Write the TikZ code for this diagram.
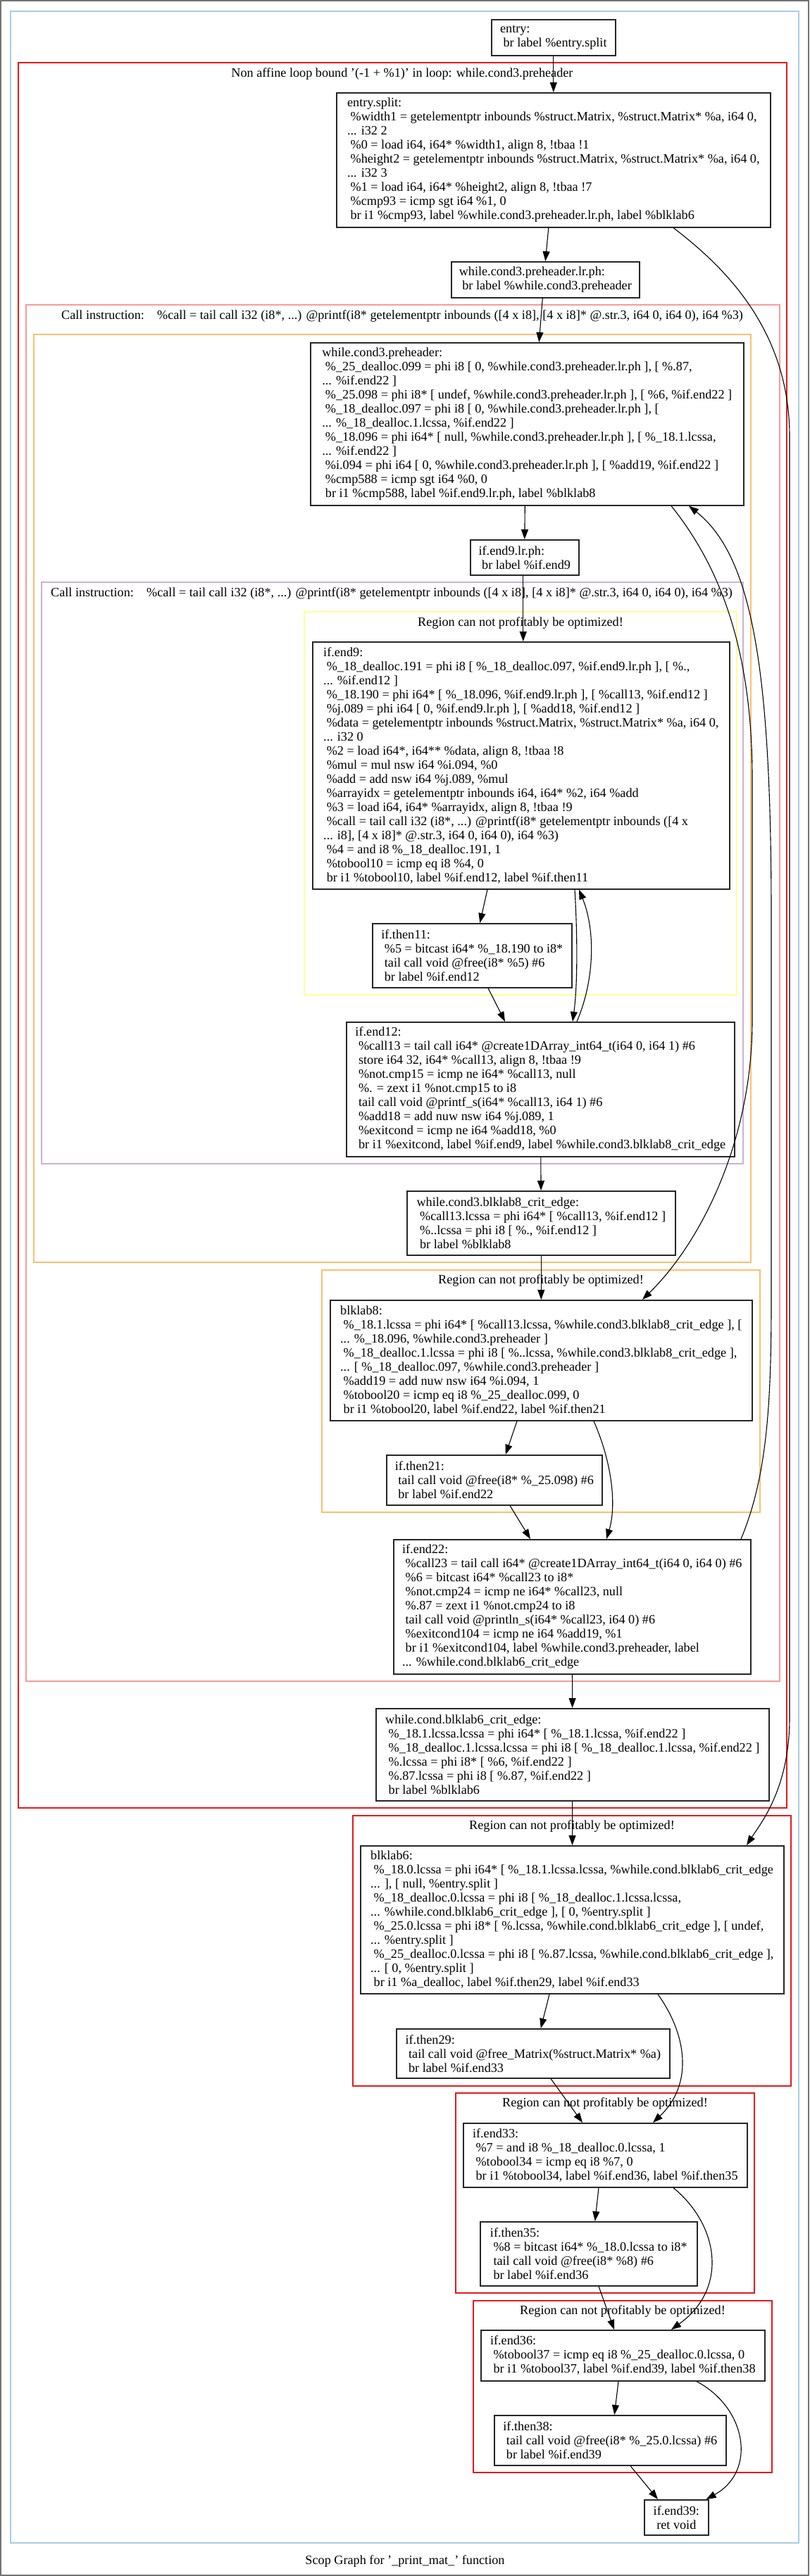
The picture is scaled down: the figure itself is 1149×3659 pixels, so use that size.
\documentclass[tikz,border=0pt]{standalone}
\usepackage{fontspec}
\setmainfont{Liberation Serif}
\usepackage{tikz}
\usetikzlibrary{arrows.meta}

\definecolor{regblau}{HTML}{A6CEE3}
\definecolor{regrot}{HTML}{E31A1C}
\definecolor{regrosa}{HTML}{FB9A99}
\definecolor{regorange}{HTML}{FDBF6F}
\definecolor{reglila}{HTML}{CAB2D6}
\definecolor{reggelb}{HTML}{FFFF99}

\newcommand{\grfont}{\fontsize{18.2pt}{20pt}\selectfont}

\begin{document}
\begin{tikzpicture}[x=1pt, y=-1pt,
		>={Triangle[length=14pt,width=10pt]},
		block/.style={draw=black!85, line width=1.6pt, align=left, anchor=north west, inner sep=0pt, font=\grfont},
		region/.style={line width=1.2pt},
		rtext/.style={font=\grfont, inner sep=0pt},
		kante/.style={->, line width=1.1pt}]
		\useasboundingbox (0,0) rectangle (1149,3659);
		\draw[line width=1.5pt, black!55] (1,1) rectangle (1148,3658);
		
		%Regionen
		\draw[region, regblau]   (15,16) rectangle (1134,3612);
		\draw[region, regrot]    (26,89) rectangle (1117,2568);
		\draw[region, regrosa]   (37,433) rectangle (1107,2388);
		\draw[region, regorange] (48,475) rectangle (1066,1793);
		\draw[region, reglila]   (59,827) rectangle (1055,1653);
		\draw[region, reggelb]   (432,869) rectangle (1046,1413);
		\draw[region, regorange] (457,1804) rectangle (1079,2148);
		\draw[region, regrot]    (501,2579) rectangle (1123,2963);
		\draw[region, regrot]    (647,2973) rectangle (1071,3257);
		\draw[region, regrot]    (672,3268) rectangle (1096,3512);
		
		\node[rtext] (nonaffine) at (571,105) {Non affine loop bound '(-1 + \%1)' in loop: while.cond3.preheader};
		\node[rtext] (callA) at (571,449) {Call instruction:\ \ \ \ \%call = tail call i32 (i8*, ...) @printf(i8* getelementptr inbounds ([4 x i8], [4 x i8]* @.str.3, i64 0, i64 0), i64 \%3)};
		\node[rtext] (callB) at (556,843) {Call instruction:\ \ \ \ \%call = tail call i32 (i8*, ...) @printf(i8* getelementptr inbounds ([4 x i8], [4 x i8]* @.str.3, i64 0, i64 0), i64 \%3)};
		\node[rtext] (regA) at (739,885) {Region can not profitably be optimized!};
		\node[rtext] (regB) at (768,1819) {Region can not profitably be optimized!};
		\node[rtext] (regC) at (812,2594) {Region can not profitably be optimized!};
		\node[rtext] (regD) at (859,2988) {Region can not profitably be optimized!};
		\node[rtext] (regE) at (884,3283) {Region can not profitably be optimized!};
		\node[rtext] (titel) at (575,3638) {Scop Graph for '\_print\_mat\_' function};
		
		%Bloecke
		\node[block, minimum width=176pt, minimum height=51pt] (entry) at (697,27) {entry:\\~br label \%entry.split};
		\node[block, minimum width=616pt, minimum height=191pt] (esplit) at (477,131) {entry.split:\\
			~\%width1 = getelementptr inbounds \%struct.Matrix, \%struct.Matrix* \%a, i64 0,\\
			... i32 2\\
			~\%0 = load i64, i64* \%width1, align 8, !tbaa !1\\
			~\%height2 = getelementptr inbounds \%struct.Matrix, \%struct.Matrix* \%a, i64 0,\\
			... i32 3\\
			~\%1 = load i64, i64* \%height2, align 8, !tbaa !7\\
			~\%cmp93 = icmp sgt i64 \%1, 0\\
			~br i1 \%cmp93, label \%while.cond3.preheader.lr.ph, label \%blklab6};
		\node[block, minimum width=267pt, minimum height=51pt] (lrph) at (640,371) {while.cond3.preheader.lr.ph:\\~br label \%while.cond3.preheader};
		\node[block, minimum width=615pt, minimum height=231pt] (wcpre) at (440,486) {while.cond3.preheader:\\
			~\%\_25\_dealloc.099 = phi i8 [ 0, \%while.cond3.preheader.lr.ph ], [ \%.87,\\
			... \%if.end22 ]\\
			~\%\_25.098 = phi i8* [ undef, \%while.cond3.preheader.lr.ph ], [ \%6, \%if.end22 ]\\
			~\%\_18\_dealloc.097 = phi i8 [ 0, \%while.cond3.preheader.lr.ph ], [\\
			... \%\_18\_dealloc.1.lcssa, \%if.end22 ]\\
			~\%\_18.096 = phi i64* [ null, \%while.cond3.preheader.lr.ph ], [ \%\_18.1.lcssa,\\
			... \%if.end22 ]\\
			~\%i.094 = phi i64 [ 0, \%while.cond3.preheader.lr.ph ], [ \%add19, \%if.end22 ]\\
			~\%cmp588 = icmp sgt i64 \%0, 0\\
			~br i1 \%cmp588, label \%if.end9.lr.ph, label \%blklab8};
		\node[block, minimum width=154pt, minimum height=50pt] (eninelrph) at (667,766) {if.end9.lr.ph:\\~br label \%if.end9};
		\node[block, minimum width=592pt, minimum height=351pt] (enine) at (443,911) {if.end9:\\
			~\%\_18\_dealloc.191 = phi i8 [ \%\_18\_dealloc.097, \%if.end9.lr.ph ], [ \%.,\\
			... \%if.end12 ]\\
			~\%\_18.190 = phi i64* [ \%\_18.096, \%if.end9.lr.ph ], [ \%call13, \%if.end12 ]\\
			~\%j.089 = phi i64 [ 0, \%if.end9.lr.ph ], [ \%add18, \%if.end12 ]\\
			~\%data = getelementptr inbounds \%struct.Matrix, \%struct.Matrix* \%a, i64 0,\\
			... i32 0\\
			~\%2 = load i64*, i64** \%data, align 8, !tbaa !8\\
			~\%mul = mul nsw i64 \%i.094, \%0\\
			~\%add = add nsw i64 \%j.089, \%mul\\
			~\%arrayidx = getelementptr inbounds i64, i64* \%2, i64 \%add\\
			~\%3 = load i64, i64* \%arrayidx, align 8, !tbaa !9\\
			~\%call = tail call i32 (i8*, ...) @printf(i8* getelementptr inbounds ([4 x\\
			... i8], [4 x i8]* @.str.3, i64 0, i64 0), i64 \%3)\\
			~\%4 = and i8 \%\_18\_dealloc.191, 1\\
			~\%tobool10 = icmp eq i8 \%4, 0\\
			~br i1 \%tobool10, label \%if.end12, label \%if.then11};
		\node[block, minimum width=283pt, minimum height=91pt] (televen) at (528,1311) {if.then11:\\
			~\%5 = bitcast i64* \%\_18.190 to i8*\\
			~tail call void @free(i8* \%5) \#6\\
			~br label \%if.end12};
		\node[block, minimum width=551pt, minimum height=191pt] (etwelve) at (491,1451) {if.end12:\\
			~\%call13 = tail call i64* @create1DArray\_int64\_t(i64 0, i64 1) \#6\\
			~store i64 32, i64* \%call13, align 8, !tbaa !9\\
			~\%not.cmp15 = icmp ne i64* \%call13, null\\
			~\%. = zext i1 \%not.cmp15 to i8\\
			~tail call void @printf\_s(i64* \%call13, i64 1) \#6\\
			~\%add18 = add nuw nsw i64 \%j.089, 1\\
			~\%exitcond = icmp ne i64 \%add18, \%0\\
			~br i1 \%exitcond, label \%if.end9, label \%while.cond3.blklab8\_crit\_edge};
		\node[block, minimum width=381pt, minimum height=91pt] (crit) at (577,1691) {while.cond3.blklab8\_crit\_edge:\\
			~\%call13.lcssa = phi i64* [ \%call13, \%if.end12 ]\\
			~\%..lcssa = phi i8 [ \%., \%if.end12 ]\\
			~br label \%blklab8};
		\node[block, minimum width=599pt, minimum height=171pt] (bacht) at (468,1846) {blklab8:\\
			~\%\_18.1.lcssa = phi i64* [ \%call13.lcssa, \%while.cond3.blklab8\_crit\_edge ], [\\
			... \%\_18.096, \%while.cond3.preheader ]\\
			~\%\_18\_dealloc.1.lcssa = phi i8 [ \%..lcssa, \%while.cond3.blklab8\_crit\_edge ],\\
			... [ \%\_18\_dealloc.097, \%while.cond3.preheader ]\\
			~\%add19 = add nuw nsw i64 \%i.094, 1\\
			~\%tobool20 = icmp eq i8 \%\_25\_dealloc.099, 0\\
			~br i1 \%tobool20, label \%if.end22, label \%if.then21};
		\node[block, minimum width=306pt, minimum height=71pt] (ttwentyone) at (548,2066) {if.then21:\\
			~tail call void @free(i8* \%\_25.098) \#6\\
			~br label \%if.end22};
		\node[block, minimum width=507pt, minimum height=191pt] (etwentytwo) at (558,2186) {if.end22:\\
			~\%call23 = tail call i64* @create1DArray\_int64\_t(i64 0, i64 0) \#6\\
			~\%6 = bitcast i64* \%call23 to i8*\\
			~\%not.cmp24 = icmp ne i64* \%call23, null\\
			~\%.87 = zext i1 \%not.cmp24 to i8\\
			~tail call void @println\_s(i64* \%call23, i64 0) \#6\\
			~\%exitcond104 = icmp ne i64 \%add19, \%1\\
			~br i1 \%exitcond104, label \%while.cond3.preheader, label\\
			... \%while.cond.blklab6\_crit\_edge};
		\node[block, minimum width=558pt, minimum height=131pt] (critsechs) at (533,2426) {while.cond.blklab6\_crit\_edge:\\
			~\%\_18.1.lcssa.lcssa = phi i64* [ \%\_18.1.lcssa, \%if.end22 ]\\
			~\%\_18\_dealloc.1.lcssa.lcssa = phi i8 [ \%\_18\_dealloc.1.lcssa, \%if.end22 ]\\
			~\%.lcssa = phi i8* [ \%6, \%if.end22 ]\\
			~\%.87.lcssa = phi i8 [ \%.87, \%if.end22 ]\\
			~br label \%blklab6};
		\node[block, minimum width=601pt, minimum height=210pt] (bsechs) at (511,2621) {blklab6:\\
			~\%\_18.0.lcssa = phi i64* [ \%\_18.1.lcssa.lcssa, \%while.cond.blklab6\_crit\_edge\\
			... ], [ null, \%entry.split ]\\
			~\%\_18\_dealloc.0.lcssa = phi i8 [ \%\_18\_dealloc.1.lcssa.lcssa,\\
			... \%while.cond.blklab6\_crit\_edge ], [ 0, \%entry.split ]\\
			~\%\_25.0.lcssa = phi i8* [ \%.lcssa, \%while.cond.blklab6\_crit\_edge ], [ undef,\\
			... \%entry.split ]\\
			~\%\_25\_dealloc.0.lcssa = phi i8 [ \%.87.lcssa, \%while.cond.blklab6\_crit\_edge ],\\
			... [ 0, \%entry.split ]\\
			~br i1 \%a\_dealloc, label \%if.then29, label \%if.end33};
		\node[block, minimum width=388pt, minimum height=70pt] (ttwentynine) at (562,2881) {if.then29:\\
			~tail call void @free\_Matrix(\%struct.Matrix* \%a)\\
			~br label \%if.end33};
		\node[block, minimum width=403pt, minimum height=91pt] (ethirtythree) at (657,3015) {if.end33:\\
			~\%7 = and i8 \%\_18\_dealloc.0.lcssa, 1\\
			~\%tobool34 = icmp eq i8 \%7, 0\\
			~br i1 \%tobool34, label \%if.end36, label \%if.then35};
		\node[block, minimum width=308pt, minimum height=91pt] (tthirtyfive) at (681,3155) {if.then35:\\
			~\%8 = bitcast i64* \%\_18.0.lcssa to i8*\\
			~tail call void @free(i8* \%8) \#6\\
			~br label \%if.end36};
		\node[block, minimum width=403pt, minimum height=72pt] (ethirtysix) at (682,3309) {if.end36:\\
			~\%tobool37 = icmp eq i8 \%\_25\_dealloc.0.lcssa, 0\\
			~br i1 \%tobool37, label \%if.end39, label \%if.then38};
		\node[block, minimum width=329pt, minimum height=71pt] (tthirtyeight) at (701,3430) {if.then38:\\
			~tail call void @free(i8* \%\_25.0.lcssa) \#6\\
			~br label \%if.end39};
		\node[block, minimum width=91pt, minimum height=50pt] (ethirtynine) at (914,3550) {if.end39:\\~ret void};
		
		%Kanten
		\draw[kante] (entry) -- (esplit);
		\draw[kante] ([xshift=-7pt]esplit.south) -- (lrph.north);
		\draw[kante] ([xshift=479pt]esplit.south west) .. controls (1030,380) and (1121,470) .. (1121,620) -- (1121,2440) .. controls (1121,2540) and (1080,2590) .. ([xshift=549pt]bsechs.north west);
		\draw[kante] ([xshift=-4pt]lrph.south) -- ([xshift=17pt]wcpre.north);
		\draw[kante] ([xshift=-3pt]wcpre.south) -- (eninelrph.north);
		\draw[kante] ([xshift=513pt]wcpre.south west) .. controls (1010,790) and (1067,900) .. (1068,1100) -- (1068,1450) .. controls (1068,1620) and (995,1765) .. ([xshift=444pt]bacht.north west);
		\draw[kante] ([xshift=-2pt]eninelrph.south) -- ([xshift=3pt]enine.north);
		\draw[kante] ([xshift=249pt]enine.south west) -- ([xshift=11pt]televen.north);
		\draw[kante] ([xshift=373pt]enine.south west) .. controls (820,1330) and (820,1400) .. ([xshift=322pt]etwelve.north west);
		\draw[kante] ([xshift=328pt]etwelve.north west) .. controls (845,1390) and (845,1320) .. ([xshift=379pt]enine.south west);
		\draw[kante] ([xshift=165pt]televen.south west) -- ([xshift=226pt]etwelve.north west);
		\draw[kante] (etwelve) -- (crit);
		\draw[kante] (crit) -- (bacht);
		\draw[kante] ([xshift=266pt]bacht.south west) -- ([xshift=16pt]ttwentyone.north);
		\draw[kante] ([xshift=375pt]bacht.south west) .. controls (870,2080) and (875,2140) .. ([xshift=303pt]etwentytwo.north west);
		\draw[kante] ([xshift=176pt]ttwentyone.south west) -- ([xshift=195pt]etwentytwo.north west);
		%zurueck zum Schleifenkopf
		\draw[kante] ([xshift=494pt]etwentytwo.north west) .. controls (1088,2100) and (1095,2000) .. (1095,1850) -- (1095,1300) .. controls (1095,950) and (1068,790) .. ([xshift=538pt]wcpre.south west);
		\draw[kante] (etwentytwo) -- (critsechs);
		\draw[kante] (critsechs) -- (bsechs);
		\draw[kante] ([xshift=269pt]bsechs.south west) -- ([xshift=11pt]ttwentynine.north);
		\draw[kante] ([xshift=423pt]bsechs.south west) .. controls (975,2890) and (985,2960) .. ([xshift=270pt]ethirtythree.north west);
		\draw[kante] ([xshift=220pt]ttwentynine.south west) -- ([xshift=170pt]ethirtythree.north west);
		\draw[kante] ([xshift=193pt]ethirtythree.south west) -- ([xshift=9pt]tthirtyfive.north);
		\draw[kante] ([xshift=299pt]ethirtythree.south west) .. controls (1020,3160) and (1035,3250) .. ([xshift=271pt]ethirtysix.north west);
		\draw[kante] ([xshift=169pt]tthirtyfive.south west) -- ([xshift=190pt]ethirtysix.north west);
		\draw[kante] ([xshift=196pt]ethirtysix.south west) -- ([xshift=6pt]tthirtyeight.north);
		\draw[kante] ([xshift=307pt]ethirtysix.south west) .. controls (1060,3420) and (1075,3510) .. ([xshift=-4pt]ethirtynine.north east);
		\draw[kante] ([xshift=194pt]tthirtyeight.south west) -- ([xshift=20pt]ethirtynine.north west);
		
\end{tikzpicture}
\end{document}
